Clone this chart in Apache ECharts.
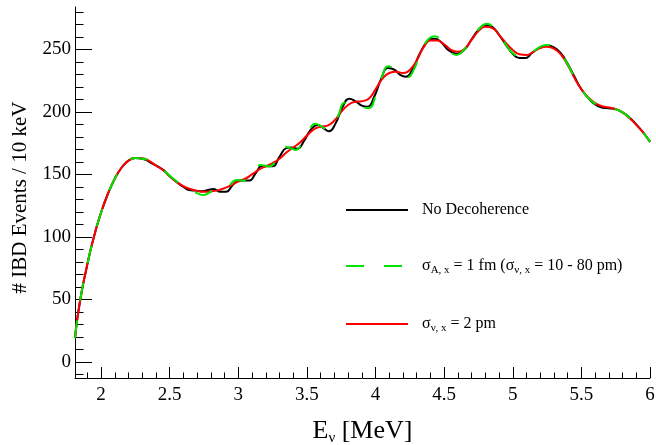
<!DOCTYPE html>
<html>
<head>
<meta charset="utf-8">
<script src="https://cdn.jsdelivr.net/npm/echarts@6/dist/echarts.min.js"></script>
<style>
  html, body { margin: 0; padding: 0; background: #ffffff; }
  #chart { width: 656px; height: 445px; }
</style>
</head>
<body>
<div id="chart"></div>
<script>
// IBD event spectrum (events per 10 keV) versus antineutrino energy [MeV]

// Decoherence with sigma_nu,x = 2 pm (damped oscillations)
const redE = [1.81, 1.83, 1.86, 1.89, 1.92, 1.96, 2.00, 2.05, 2.10, 2.15, 2.20, 2.25, 2.30, 2.35, 2.40,
  2.45, 2.50, 2.55, 2.60, 2.65, 2.70, 2.75, 2.80, 2.85, 2.90, 2.95, 3.00, 3.05, 3.10, 3.15, 3.20,
  3.25, 3.30, 3.35, 3.40, 3.45, 3.50, 3.55, 3.60, 3.65, 3.70, 3.75, 3.80, 3.85, 3.90, 3.95, 4.00,
  4.05, 4.10, 4.15, 4.20, 4.25, 4.30, 4.35, 4.40, 4.45, 4.50, 4.55, 4.60, 4.65, 4.70, 4.75, 4.80,
  4.85, 4.90, 4.95, 5.00, 5.05, 5.10, 5.15, 5.20, 5.25, 5.30, 5.35, 5.40, 5.45, 5.50, 5.55, 5.60,
  5.65, 5.70, 5.75, 5.80, 5.85, 5.90, 5.95, 6.00];
const redV = [19, 37, 57, 73, 88, 105, 119.5, 134.5, 146.5, 155.5, 161, 163, 162.8, 160.8, 157,
  153.5, 148.5, 144, 140.5, 138.3, 136.8, 136, 136.3, 137.2, 139, 141.5, 144.3, 146.5, 150, 153.8, 156.5,
  159, 162.5, 167.5, 171.5, 175.5, 181, 186, 188, 189, 193, 200, 205.5, 208, 208.5, 210.5, 218,
  226.5, 231, 232, 231, 233.5, 241, 251.5, 257, 257, 254, 249.5, 248, 250.5, 257.5, 264.5, 268,
  267, 261.5, 255, 249.5, 246, 245.5, 248, 251, 252, 250.5, 246, 237.5, 227, 218, 211.5, 207,
  204.5, 203.5, 202.3, 199.5, 195, 189.5, 183.5, 176];

// No decoherence
const blackE = [1.81, 1.83, 1.86, 1.89, 1.92, 1.96, 2.00, 2.05, 2.10, 2.15, 2.20, 2.25, 2.30, 2.36, 2.41,
  2.46, 2.50, 2.55, 2.60, 2.64, 2.69, 2.74, 2.78, 2.82, 2.87, 2.91, 2.96, 3.00, 3.04, 3.08, 3.13,
  3.17, 3.21, 3.25, 3.30, 3.35, 3.39, 3.43, 3.48, 3.53, 3.58, 3.62, 3.66, 3.71, 3.76, 3.81, 3.86,
  3.90, 3.94, 3.99, 4.04, 4.09, 4.14, 4.18, 4.22, 4.27, 4.32, 4.38, 4.43, 4.48, 4.53, 4.59, 4.65,
  4.70, 4.75, 4.80, 4.85, 4.90, 4.95, 5.00, 5.05, 5.09, 5.14, 5.19, 5.25, 5.30, 5.35, 5.40, 5.45,
  5.50, 5.55, 5.60, 5.65, 5.70, 5.75, 5.80, 5.85, 5.90, 5.95, 6.00];
const blackV = [19, 37, 57, 73, 88, 105, 119.5, 134.5, 146.5, 155.5, 161, 163, 162.5, 159.5, 156.5,
  153, 148.5, 144, 140, 137.5, 137, 136.5, 137.5, 138.2, 136, 136, 141.5, 145, 145, 145, 151.5,
  156.5, 156.5, 156.5, 164, 171, 171.5, 170.5, 177, 186, 189.5, 187, 184.5, 191, 204, 210.5, 208,
  205, 204, 212, 226, 235, 233.5, 229.5, 228, 234, 246, 256.5, 258.5, 255.5, 249.5, 246.5, 250,
  258, 265.5, 269.5, 268, 261.5, 253.5, 246.5, 243, 243, 247, 251, 253, 251.5, 247, 238.5, 228,
  218, 211, 206, 203.5, 202.8, 202, 199.5, 195.5, 190, 183.5, 176];

// sigma_A,x = 1 fm (sigma_nu,x = 10 - 80 pm)
const greenE = [1.81, 1.83, 1.86, 1.89, 1.92, 1.96, 2.00, 2.05, 2.10, 2.15, 2.20, 2.25, 2.30, 2.35, 2.40,
  2.45, 2.50, 2.55, 2.60, 2.65, 2.70, 2.745, 2.79, 2.83, 2.87, 2.92, 2.99, 3.03, 3.07, 3.12, 3.16,
  3.19, 3.23, 3.28, 3.34, 3.38, 3.42, 3.46, 3.51, 3.56, 3.61, 3.66, 3.72, 3.78, 3.83, 3.89, 3.95,
  4.00, 4.05, 4.09, 4.14, 4.19, 4.23, 4.28, 4.33, 4.38, 4.43, 4.48, 4.53, 4.59, 4.64, 4.70, 4.76,
  4.81, 4.86, 4.91, 4.96, 5.01, 5.06, 5.11, 5.16, 5.21, 5.25, 5.30, 5.35, 5.40, 5.45, 5.50, 5.55,
  5.60, 5.65, 5.70, 5.75, 5.80, 5.85, 5.90, 5.95, 6.00];
const greenV = [19, 37, 57, 73, 88, 105, 119.5, 134.5, 146.5, 155.5, 161, 163, 162.5, 161, 157,
  153.5, 149, 144.5, 140, 137.5, 135, 133.5, 135.5, 137.8, 137.5, 140, 145.5, 145, 145.5, 152, 157.5,
  157, 156.5, 162.5, 172, 171, 169.5, 174.5, 184, 190.5, 188, 185.5, 195, 207.5, 207.5, 204.5, 203,
  212.5, 229, 236.5, 234, 229, 227.5, 234, 248, 257.5, 260.5, 257, 250, 245.5, 249, 258, 267,
  270.5, 267.5, 261, 252, 246, 244, 245, 249, 252.5, 253.5, 251.5, 246.5, 238, 227.5, 218, 211,
  206.5, 203.5, 202.8, 202, 199.5, 195.5, 190, 183.5, 176];

// Axis ticks and labels
const xMajorTicks = [2, 2.5, 3, 3.5, 4, 4.5, 5, 5.5, 6];
const yMajorTicks = [0, 50, 100, 150, 200, 250];
const xMinorTicks = [];
for (let k = 19; k <= 60; k++) { if (k % 5 !== 0) xMinorTicks.push(k / 10); }
const yMinorTicks = [];
for (let k = -10; k <= 280; k += 10) { if (k % 50 !== 0) yMinorTicks.push(k); }

const FONT = '"Liberation Serif", "DejaVu Serif", serif';
const GREEN = '#00e400';

function pairs(es, vs) { return es.map((e, i) => [e, vs[i]]); }

const legendText = {
  'No Decoherence': '{t|No Decoherence}',
  'sigmaA': '{t|σ}{s|A, x}{t| = 1 fm (σ}{s|ν, x}{t| = 10 - 80 pm)}',
  'sigmaNu': '{t|σ}{s|ν, x}{t| = 2 pm}'
};

const X_MIN = 1.81, X_MAX = 6.0, Y_MIN = -12.8, Y_MAX = 283.8;

const baseXAxis = {
  type: 'value', min: X_MIN, max: X_MAX, position: 'bottom',
  splitLine: { show: false }
};
const baseYAxis = {
  type: 'value', min: Y_MIN, max: Y_MAX, position: 'left',
  splitLine: { show: false }
};

const option = {
  animation: false,
  backgroundColor: '#ffffff',
  grid: { left: 75, right: 6, top: 7, bottom: 67, containLabel: false, outerBoundsMode: 'none' },
  xAxis: [
    Object.assign({}, baseXAxis, {
      name: '{n|E}{sub|ν}{n| [MeV]}',
      nameLocation: 'middle',
      nameGap: 38,
      nameTextStyle: {
        rich: {
          n: { fontFamily: FONT, fontSize: 26, color: '#000', lineHeight: 30 },
          sub: { fontFamily: FONT, fontSize: 15, color: '#000', lineHeight: 6, verticalAlign: 'bottom' }
        }
      },
      axisLine: { show: true, onZero: false, lineStyle: { color: '#000', width: 1 } },
      axisTick: { show: true, inside: true, length: 11, customValues: xMajorTicks, lineStyle: { color: '#000' } },
      axisLabel: {
        show: true, customValues: xMajorTicks, margin: 8,
        fontFamily: FONT, fontSize: 19, color: '#000',
        formatter: v => String(Math.round(v * 10) / 10)
      }
    }),
    Object.assign({}, baseXAxis, {
      axisLine: { show: false, onZero: false },
      axisTick: { show: true, inside: true, length: 5.5, customValues: xMinorTicks, lineStyle: { color: '#000' } },
      axisLabel: { show: false }
    })
  ],
  yAxis: [
    Object.assign({}, baseYAxis, {
      name: '# IBD Events / 10 keV',
      nameLocation: 'middle',
      nameRotate: 90,
      nameGap: 44,
      nameTextStyle: { fontFamily: FONT, fontSize: 21, color: '#000', padding: [0, 10, 0, 0] },
      axisLine: { show: true, onZero: false, lineStyle: { color: '#000', width: 1 } },
      axisTick: { show: true, inside: true, length: 17, customValues: yMajorTicks, lineStyle: { color: '#000' } },
      axisLabel: {
        show: true, customValues: yMajorTicks, margin: 4,
        fontFamily: FONT, fontSize: 19, color: '#000'
      }
    }),
    Object.assign({}, baseYAxis, {
      axisLine: { show: false, onZero: false },
      axisTick: { show: true, inside: true, length: 8.5, customValues: yMinorTicks, lineStyle: { color: '#000' } },
      axisLabel: { show: false }
    })
  ],
  legend: {
    orient: 'vertical',
    left: 345,
    top: 202,
    padding: 0,
    itemWidth: 62,
    itemHeight: 14,
    itemGap: 40,
    selectedMode: false,
    itemStyle: { opacity: 0 },
    data: ['No Decoherence', 'sigmaA', 'sigmaNu'],
    formatter: name => legendText[name],
    textStyle: {
      padding: [0, 0, 0, 9],
      rich: {
        t: { fontFamily: FONT, fontSize: 16, color: '#000', lineHeight: 20 },
        s: { fontFamily: FONT, fontSize: 11, color: '#000', lineHeight: 4, verticalAlign: 'bottom' }
      }
    }
  },
  series: [
    {
      name: 'No Decoherence', type: 'line', xAxisIndex: 0, yAxisIndex: 0,
      data: pairs(blackE, blackV), smooth: true, symbol: 'none',
      lineStyle: { color: '#000000', width: 2 }, itemStyle: { color: '#000000' }, z: 2
    },
    {
      name: 'sigmaNu', type: 'line', xAxisIndex: 0, yAxisIndex: 0,
      data: pairs(redE, redV), smooth: true, symbol: 'none',
      lineStyle: { color: '#ff0000', width: 2 }, itemStyle: { color: '#ff0000' }, z: 3
    },
    {
      name: 'sigmaA', type: 'line', xAxisIndex: 0, yAxisIndex: 0,
      data: pairs(greenE, greenV), smooth: true, symbol: 'none',
      lineStyle: { color: GREEN, width: 2, type: [18, 20] }, itemStyle: { color: GREEN }, z: 4
    }
  ]
};

const chart = echarts.init(document.getElementById('chart'), null, { renderer: 'canvas' });
chart.setOption(option);
</script>
</body>
</html>
